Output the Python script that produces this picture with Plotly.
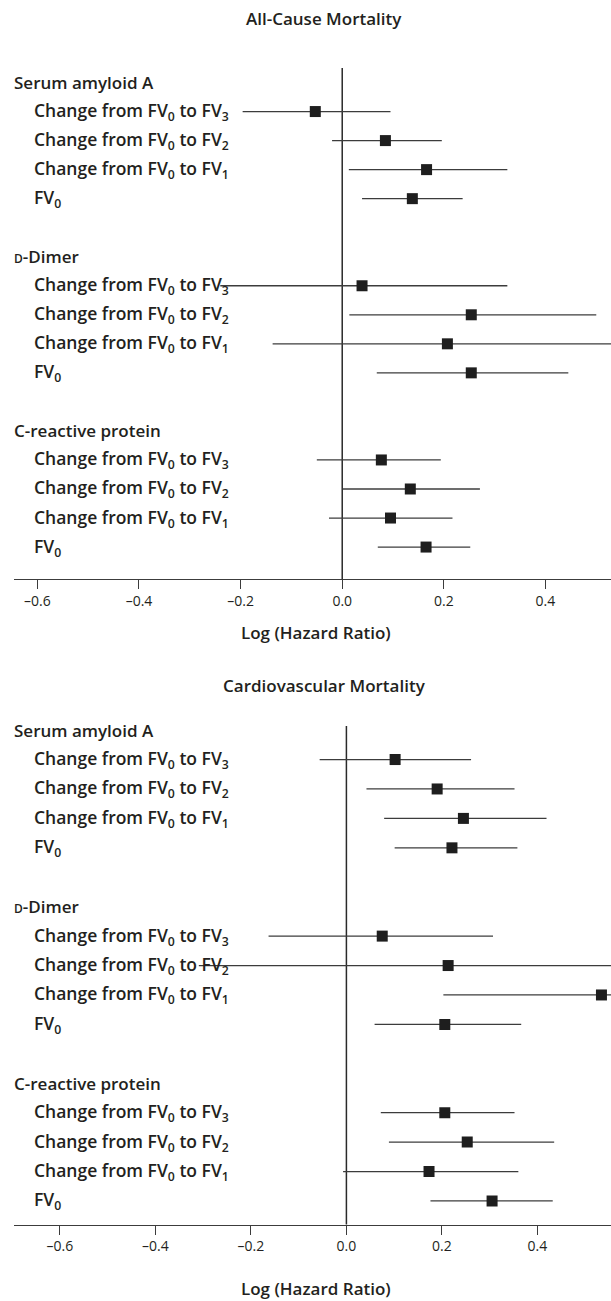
import plotly.graph_objects as go

# ---------------- data ----------------
groups = ["Serum amyloid A", "<span style='font-size:12px'>D</span>-Dimer", "C-reactive protein"]
row_labels = [
    "Change from FV<sub>0</sub> to FV<sub>3</sub>",
    "Change from FV<sub>0</sub> to FV<sub>2</sub>",
    "Change from FV<sub>0</sub> to FV<sub>1</sub>",
    "FV<sub>0</sub>",
]

tick_vals = [-0.6, -0.4, -0.2, 0.0, 0.2, 0.4]
tick_text = ["\u20130.6", "\u20130.4", "\u20130.2", "0.0", "0.2", "0.4"]

# All-cause mortality (order: SAA FV3,FV2,FV1,FV0 ; D-dimer ... ; CRP ...)
allcause_est = [-0.053, 0.085, 0.166, 0.138, 0.039, 0.254, 0.207, 0.254, 0.077, 0.134, 0.095, 0.165]
allcause_lo = [-0.196, -0.020, 0.013, 0.039, -0.240, 0.014, -0.137, 0.068, -0.050, 0.001, -0.026, 0.070]
allcause_hi = [0.095, 0.196, 0.325, 0.237, 0.325, 0.500, 0.560, 0.445, 0.194, 0.271, 0.217, 0.252]

# Cardiovascular mortality
cv_est = [0.102, 0.190, 0.245, 0.221, 0.075, 0.213, 0.534, 0.206, 0.206, 0.253, 0.173, 0.305]
cv_lo = [-0.056, 0.042, 0.079, 0.101, -0.163, -0.309, 0.203, 0.059, 0.072, 0.089, -0.007, 0.176]
cv_hi = [0.261, 0.352, 0.419, 0.358, 0.307, 0.620, 0.850, 0.366, 0.352, 0.435, 0.360, 0.432]

# ---------------- layout helpers ----------------
W, H = 611, 1301
FONT = "Open Sans"
TXT = "#231f20"
LINE = "#3c3c3c"

header_slots = [0, 6, 12]
row_slots = [h + k for h in header_slots for k in (1, 2, 3, 4)]


def py(px):
    return 1 - px / H


fig = go.Figure()

panels = [
    dict(est=allcause_est, lo=allcause_lo, hi=allcause_hi, xa="x", ya="y",
         xr=[-0.646, 0.529], yr=[17.1, -0.5], top=68, bot=579,
         title="All-Cause Mortality", title_y=19, xt_y=632),
    dict(est=cv_est, lo=cv_lo, hi=cv_hi, xa="x2", ya="y2",
         xr=[-0.696, 0.554], yr=[16.8, -0.14], top=726, bot=1224.5,
         title="Cardiovascular Mortality", title_y=686, xt_y=1288),
]

annotations = []
shapes = []
for i, p in enumerate(panels):
    sfx = "" if i == 0 else "2"
    plus = [h - e for h, e in zip(p["hi"], p["est"])]
    minus = [e - l for e, l in zip(p["est"], p["lo"])]
    fig.add_trace(go.Scatter(
        x=p["est"], y=row_slots, mode="markers",
        xaxis=p["xa"], yaxis=p["ya"],
        marker=dict(symbol="square", size=11, color="#1e1e1e", line=dict(width=0)),
        error_x=dict(type="data", symmetric=False, array=plus, arrayminus=minus,
                     width=0, thickness=1.3, color=LINE),
        showlegend=False, hoverinfo="skip", cliponaxis=True,
    ))
    dom = [py(p["bot"]), py(p["top"])]
    fig.update_layout(**{
        "xaxis" + sfx: dict(domain=[14 / W, 1], range=p["xr"], anchor="y" + sfx,
                            showgrid=False, zeroline=False, showline=True,
                            linecolor=LINE, linewidth=1.3, ticks="outside",
                            ticklen=9, tickwidth=1.3, tickcolor=LINE,
                            tickvals=tick_vals, ticktext=tick_text,
                            tickfont=dict(family=FONT, size=14, color=TXT)),
        "yaxis" + sfx: dict(domain=dom, range=p["yr"], anchor="x" + sfx,
                            visible=False, showgrid=False, zeroline=False),
    })
    # vertical reference line at 0
    shapes.append(dict(type="line", xref=p["xa"], yref=p["ya"] + " domain",
                       x0=0, x1=0, y0=0, y1=1,
                       line=dict(color="#2a2a2a", width=1.5), layer="below"))
    # group headers and row labels
    for g, hs in enumerate(header_slots):
        annotations.append(dict(text=groups[g], xref="paper", yref=p["ya"],
                                x=12 / W, y=hs, xanchor="left", yanchor="middle",
                                showarrow=False,
                                font=dict(family=FONT, size=17, color=TXT, weight=600)))
        for k in range(4):
            annotations.append(dict(text=row_labels[k], xref="paper", yref=p["ya"],
                                    x=32 / W, y=hs + k + 1, xanchor="left",
                                    yanchor="middle", showarrow=False,
                                    font=dict(family=FONT, size=17.5, color=TXT, weight=600)))
    annotations.append(dict(text=p["title"], xref="paper", yref="paper",
                            x=324 / W, y=py(p["title_y"]), xanchor="center",
                            yanchor="middle", showarrow=False,
                            font=dict(family=FONT, size=17, color=TXT, weight=600)))
    annotations.append(dict(text="Log (Hazard Ratio)", xref="paper", yref="paper",
                            x=316 / W, y=py(p["xt_y"]), xanchor="center",
                            yanchor="middle", showarrow=False,
                            font=dict(family=FONT, size=17, color=TXT, weight=600)))

fig.update_layout(
    width=W, height=H,
    margin=dict(l=0, r=0, t=0, b=0),
    paper_bgcolor="white", plot_bgcolor="white",
    annotations=annotations, shapes=shapes,
    font=dict(family=FONT, color=TXT),
)

fig.write_html("out.html", config={"displayModeBar": False},
               post_script="document.body.style.margin='0';document.body.style.overflow='hidden';")
